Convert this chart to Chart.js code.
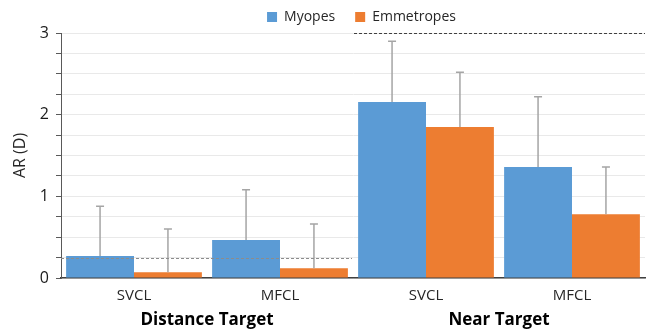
<!DOCTYPE html>
<html>
<head>
<meta charset="utf-8">
<script src="https://cdn.jsdelivr.net/npm/chart.js@4.4.0/dist/chart.umd.min.js"></script>
<style>
    html, body { margin: 0; padding: 0; background: #fff; }
    #wrap { width: 649px; height: 335px; }
</style>
</head>
<body>
<div id="wrap"><canvas id="chartAR"></canvas></div>
<script>
// ── Dados ────────────────────────────────────────────────────────
const categorias  = ['SVCL', 'MFCL', 'SVCL', 'MFCL'];
const grupos      = ['Distance Target', 'Near Target'];
const myopes      = [0.27, 0.465, 2.155, 1.36];
const myopesSD    = [0.61, 0.615, 0.745, 0.86];
const emmetropes  = [0.07, 0.12, 1.85, 0.78];
const emmetropesSD = [0.53, 0.54, 0.67, 0.58];
const refDistance = 0.25;
const refNear     = 3;

const FONT = "'Open Sans', 'Noto Sans', sans-serif";

// ── Barras de erro (só para cima) ────────────────────────────────
const errorBars = {
    id: 'errorBars',
    afterDatasetsDraw(chart) {
        const { ctx, scales: { y } } = chart;
        ctx.save();
        ctx.strokeStyle = '#a5a5a5';
        ctx.lineWidth = 1.5;
        chart.data.datasets.forEach((ds, i) => {
            const meta = chart.getDatasetMeta(i);
            meta.data.forEach((bar, j) => {
                const top = y.getPixelForValue(ds.data[j] + ds.sd[j]);
                const base = y.getPixelForValue(ds.data[j]);
                ctx.beginPath();
                ctx.moveTo(bar.x, base);
                ctx.lineTo(bar.x, top);
                ctx.moveTo(bar.x - 4, top);
                ctx.lineTo(bar.x + 4, top);
                ctx.stroke();
            });
        });
        ctx.restore();
    }
};

// ── Linhas de referência tracejadas ──────────────────────────────
const refLines = {
    id: 'refLines',
    afterDatasetsDraw(chart) {
        const { ctx, chartArea, scales: { x, y } } = chart;
        const mid = (x.getPixelForValue(1) + x.getPixelForValue(2)) / 2;
        ctx.save();
        ctx.lineWidth = 1;
        ctx.setLineDash([3, 2]);

        ctx.strokeStyle = '#8c8c8c';
        let py = Math.round(y.getPixelForValue(refDistance)) + 0.5;
        ctx.beginPath();
        ctx.moveTo(chartArea.left, py);
        ctx.lineTo(mid - 1, py);
        ctx.stroke();

        ctx.strokeStyle = '#404040';
        py = Math.round(y.getPixelForValue(refNear)) + 0.5;
        ctx.beginPath();
        ctx.moveTo(mid + 1, py);
        ctx.lineTo(chartArea.right, py);
        ctx.stroke();
        ctx.restore();
    }
};

// ── Legenda: altura fixa, itens espaçados e deslocada à direita ──
const legendShift = {
    id: 'legendShift',
    beforeLayout(chart) {
        const lg = chart.legend;
        if (lg && !lg._patched) {
            const fitOrig = lg.fit;
            lg.fit = function() { fitOrig.call(this); this.height = 31; };
            lg._patched = true;
        }
    },
    afterLayout(chart) {
        chart.legend.left += 39;
        chart.legend.right += 39;
        chart.legend.top -= 12;
    }
};

new Chart(document.getElementById('chartAR'), {
    type: 'bar',
    data: {
        labels: categorias,
        datasets: [
            { label: 'Myopes', data: myopes, sd: myopesSD, backgroundColor: '#5b9bd5' },
            { label: 'Emmetropes', data: emmetropes, sd: emmetropesSD, backgroundColor: '#ed7d31' }
        ]
    },
    options: {
        responsive: true,
        maintainAspectRatio: false,
        animation: false,
        datasets: { bar: { categoryPercentage: 0.93, barPercentage: 1.0 } },
        layout: { padding: { left: 0, right: 4, top: 2, bottom: 0 } },
        plugins: {
            tooltip: { enabled: false },
            legend: {
                position: 'top',
                labels: {
                    boxWidth: 10, boxHeight: 10, padding: 20,
                    color: '#262626',
                    font: { family: FONT, size: 14 }
                }
            }
        },
        scales: {
            x: {
                afterFit(scale) { scale.height = 27; },
                grid: { display: false, drawTicks: false },
                border: { color: '#404040', width: 1.5 },
                ticks: { color: '#262626', padding: 9, font: { family: FONT, size: 15 } }
            },
            x2: {
                type: 'category',
                labels: grupos,
                position: 'bottom',
                offset: true,
                afterFit(scale) { scale.height = 30; },
                grid: { display: false, drawTicks: false },
                border: { display: false },
                ticks: { color: '#000', padding: 5, font: { family: FONT, size: 17, weight: 'bold' } }
            },
            y: {
                min: 0, max: 3,
                afterFit(scale) { scale.width = 61; },
                title: {
                    display: true, text: 'AR (D)', color: '#262626',
                    font: { family: FONT, size: 16 }, padding: { top: 11, bottom: 0 }
                },
                border: { color: '#595959', width: 1 },
                grid: { color: '#e9e9e9', tickColor: '#595959', tickLength: 5 },
                ticks: {
                    stepSize: 0.25, autoSkip: false, padding: 7,
                    color: '#1a1a1a', font: { family: FONT, size: 16 },
                    callback: v => Number.isInteger(v) ? v : ''
                }
            }
        }
    },
    plugins: [errorBars, refLines, legendShift]
});
</script>
</body>
</html>
